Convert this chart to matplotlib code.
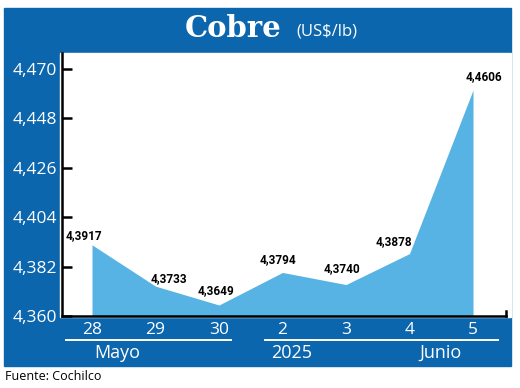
import matplotlib
matplotlib.use('Agg')
import matplotlib.pyplot as plt
from matplotlib import font_manager
from matplotlib.patches import Rectangle
from matplotlib.lines import Line2D

# datos
dias = ['28', '29', '30', '2', '3', '4', '5']
precios = [4.3917, 4.3733, 4.3649, 4.3794, 4.3740, 4.3878, 4.4606]
etiquetas = ['4,3917', '4,3733', '4,3649', '4,3794', '4,3740', '4,3878', '4,4606']
y_ticks = [4.360, 4.382, 4.404, 4.426, 4.448, 4.470]
y_tick_labels = ['4,360', '4,382', '4,404', '4,426', '4,448', '4,470']
meses = ['Mayo', '2025', 'Junio']

AZUL = '#0b66ae'
CELESTE = '#56b3e3'

disponibles = {f.name for f in font_manager.fontManager.ttflist}


def fuente(*nombres):
    for n in nombres:
        if n in disponibles:
            return n
    return 'DejaVu Sans'


SANS = fuente('Open Sans', 'Noto Sans', 'DejaVu Sans')
NARROW = fuente('Liberation Sans Narrow', 'DejaVu Sans Condensed', 'Roboto', 'DejaVu Sans')

W, H = 520, 388


def fx(x):
    return x / W


def fy(y):
    return 1 - y / H


fig = plt.figure(figsize=(5.2, 3.88), dpi=100)

# fondo azul y area blanca
fig.add_artist(Rectangle((fx(4), fy(366)), fx(511) - fx(4), fy(8) - fy(366),
                         transform=fig.transFigure, color=AZUL, zorder=0))
fig.add_artist(Rectangle((fx(60), fy(317)), fx(511) - fx(60), fy(53) - fy(317),
                         transform=fig.transFigure, color='white', zorder=0))

# titulo
fig.text(fx(281), fy(37), 'Cobre', family='DejaVu Serif', weight='bold',
         fontsize=21, color='white', ha='right', va='baseline')
fig.text(fx(296), fy(36), '(US$/lb)', family=SANS, fontsize=12,
         color='white', ha='left', va='baseline')

ax = fig.add_axes([fx(62), fy(316), fx(506) - fx(62), fy(53) - fy(316)])
ax.set_facecolor('none')

x = list(range(len(dias)))
ax.fill_between(x, precios, y_ticks[0], color=CELESTE, lw=0)

ax.set_ylim(4.360, 4.360 + (316 - 53) / 247 * 0.11)
ax.set_xlim(-30 / 63.5, 6 + 33 / 63.5)

ax.set_yticks(y_ticks)
ax.set_yticklabels(y_tick_labels)
ax.set_xticks(x)
ax.set_xticklabels(dias)

for s in ['top', 'right']:
    ax.spines[s].set_visible(False)
for s in ['left', 'bottom']:
    ax.spines[s].set_linewidth(1.8)
    ax.spines[s].set_color('black')

# pequeña marca al final del eje x
ax.plot([1, 1], [0, 0.02], transform=ax.transAxes, color='black', lw=1.8,
        clip_on=False)

ax.tick_params(axis='y', direction='in', length=7.5, width=1.8, pad=3.5,
               labelsize=12.5, labelcolor='white')
ax.tick_params(axis='x', length=0, pad=4, labelsize=12.5, labelcolor='white')
for lab in ax.get_xticklabels() + ax.get_yticklabels():
    lab.set_family(SANS)

# etiquetas de valores (desplazamiento en px)
desp = [(-8, 9), (13, 8), (-3, 14), (-4, 13), (-4, 16), (-16, 12), (11, 13)]
for i, (v, t) in enumerate(zip(precios, etiquetas)):
    dx, dy = desp[i]
    ax.annotate(t, (i, v), xytext=(dx * 0.72, dy * 0.72), textcoords='offset points',
                ha='center', va='center', fontsize=8.5, weight='bold',
                family=NARROW, color='black')

# lineas de meses
for x0, x1 in [(66, 231), (265, 498)]:
    fig.add_artist(Line2D([fx(x0), fx(x1)], [fy(340), fy(340)],
                          transform=fig.transFigure, color='white', lw=1.4))

for m, px in zip(meses, [117, 292, 440]):
    fig.text(fx(px), fy(353), m, family=SANS, fontsize=13, color='white',
             ha='center', va='center')

fig.text(fx(5), fy(377), 'Fuente: Cochilco', family=SANS, fontsize=9,
         color='black', ha='left', va='center')

fig.savefig('out.png', dpi=100)
